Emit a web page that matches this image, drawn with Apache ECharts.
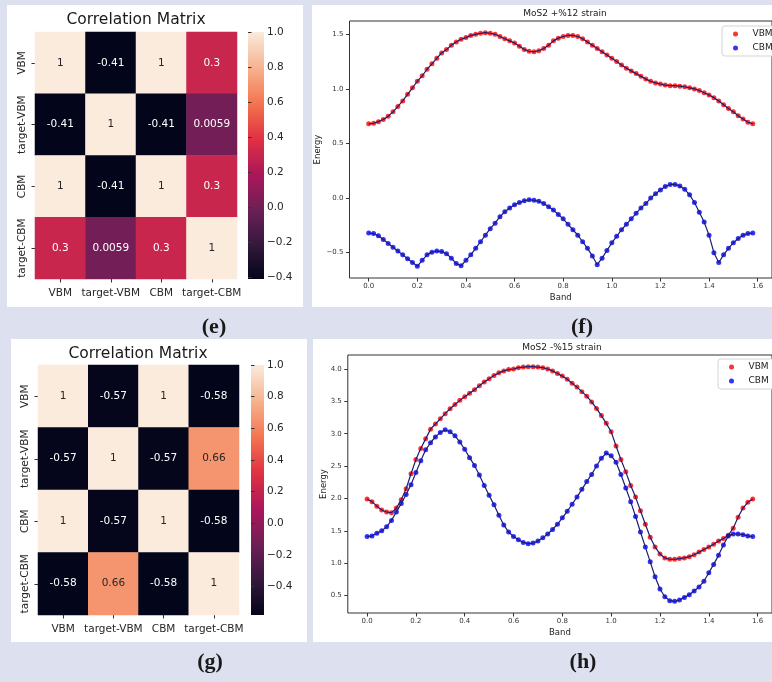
<!DOCTYPE html>
<html>
<head>
<meta charset="utf-8">
<title>Correlation / MoS2 strain</title>
<script src="https://cdn.jsdelivr.net/npm/echarts@6.0.0/dist/echarts.min.js"></script>
<style>
body { margin: 0; background: #dde0ef; }
#main { width: 772px; height: 682px; }
</style>
</head>
<body>
<div id="main"></div>
<script>
// heatmap data
var cats = ['VBM', 'target-VBM', 'CBM', 'target-CBM'];
var corrE = [
	[1, -0.41, 1, 0.3],
	[-0.41, 1, -0.41, 0.0059],
	[1, -0.41, 1, 0.3],
	[0.3, 0.0059, 0.3, 1]
];
var corrG = [
	[1, -0.57, 1, -0.58],
	[-0.57, 1, -0.57, 0.66],
	[1, -0.57, 1, -0.58],
	[-0.58, 0.66, -0.58, 1]
];
var rocket = ['#03051a', '#35193e', '#701f57', '#ad1759', '#e13342', '#f37651', '#f6b48f', '#faebdd'];
var cbarTicks = [-0.4, -0.2, 0, 0.2, 0.4, 0.6, 0.8, 1.0];

// band structure data
var band = [0, 0.02, 0.04, 0.06, 0.08, 0.1, 0.12, 0.14, 0.16, 0.18,
	0.2, 0.22, 0.24, 0.26, 0.28, 0.3, 0.32, 0.34, 0.36, 0.38,
	0.4, 0.42, 0.44, 0.46, 0.48, 0.5, 0.52, 0.54, 0.56, 0.58,
	0.6, 0.62, 0.64, 0.66, 0.68, 0.7, 0.72, 0.74, 0.76, 0.78,
	0.8, 0.82, 0.84, 0.86, 0.88, 0.9, 0.92, 0.94, 0.96, 0.98,
	1.0, 1.02, 1.04, 1.06, 1.08, 1.1, 1.12, 1.14, 1.16, 1.18,
	1.2, 1.22, 1.24, 1.26, 1.28, 1.3, 1.32, 1.34, 1.36, 1.38,
	1.4, 1.42, 1.44, 1.46, 1.48, 1.5, 1.52, 1.54, 1.56, 1.58];
var vbmF = [0.68, 0.685, 0.7, 0.72, 0.75, 0.79, 0.84, 0.89, 0.95, 1.01,
	1.07, 1.12, 1.18, 1.23, 1.28, 1.33, 1.36, 1.4, 1.43, 1.455,
	1.47, 1.49, 1.5, 1.51, 1.515, 1.51, 1.5, 1.48, 1.46, 1.44,
	1.42, 1.39, 1.36, 1.345, 1.34, 1.35, 1.37, 1.4, 1.44, 1.465,
	1.48, 1.49, 1.49, 1.48, 1.46, 1.43, 1.4, 1.37, 1.34, 1.31,
	1.28, 1.25, 1.22, 1.19, 1.165, 1.14, 1.115, 1.09, 1.07, 1.055,
	1.045, 1.035, 1.03, 1.03, 1.025, 1.02, 1.01, 1.0, 0.985, 0.965,
	0.945, 0.92, 0.89, 0.855, 0.82, 0.79, 0.755, 0.725, 0.695, 0.68];
var cbmF = [-0.32, -0.325, -0.345, -0.38, -0.415, -0.45, -0.485, -0.52, -0.555, -0.59,
	-0.625, -0.57, -0.52, -0.495, -0.485, -0.49, -0.51, -0.55, -0.6, -0.62,
	-0.57, -0.52, -0.46, -0.4, -0.34, -0.28, -0.23, -0.17, -0.125, -0.09,
	-0.06, -0.04, -0.025, -0.015, -0.02, -0.03, -0.05, -0.08, -0.11, -0.15,
	-0.19, -0.24, -0.29, -0.34, -0.4, -0.46, -0.53, -0.61, -0.55, -0.48,
	-0.41, -0.35, -0.29, -0.24, -0.19, -0.14, -0.09, -0.05, 0.0, 0.04,
	0.075, 0.105, 0.125, 0.125, 0.11, 0.08, 0.03, -0.04, -0.13, -0.22,
	-0.34, -0.5, -0.59, -0.52, -0.46, -0.41, -0.37, -0.34, -0.325, -0.32];
var vbmH = [1.99, 1.95, 1.88, 1.82, 1.79, 1.78, 1.85, 1.98, 2.15, 2.38,
	2.6, 2.77, 2.92, 3.07, 3.15, 3.23, 3.31, 3.385, 3.45, 3.515,
	3.57, 3.625, 3.68, 3.74, 3.8, 3.85, 3.9, 3.94, 3.97, 3.99,
	4.0, 4.02, 4.03, 4.035, 4.035, 4.03, 4.02, 4.0, 3.97, 3.93,
	3.89, 3.84, 3.78, 3.72, 3.65, 3.58, 3.49, 3.39, 3.28, 3.16,
	3.03, 2.81, 2.6, 2.41, 2.2, 2.02, 1.81, 1.6, 1.4, 1.25,
	1.14, 1.08, 1.06, 1.06, 1.07, 1.08, 1.1, 1.13, 1.17, 1.21,
	1.25, 1.29, 1.34, 1.38, 1.43, 1.54, 1.71, 1.85, 1.94, 1.99];
var cbmH = [1.41, 1.42, 1.46, 1.5, 1.56, 1.66, 1.79, 1.92, 2.06, 2.21,
	2.4, 2.58, 2.75, 2.86, 2.95, 3.02, 3.06, 3.03, 2.97, 2.87,
	2.76, 2.63, 2.51, 2.36, 2.2, 2.05, 1.9, 1.74, 1.59, 1.48,
	1.41, 1.36, 1.32, 1.3, 1.31, 1.34, 1.39, 1.45, 1.52, 1.6,
	1.7, 1.8, 1.91, 2.02, 2.14, 2.26, 2.37, 2.5, 2.62, 2.7,
	2.66, 2.56, 2.37, 2.16, 1.95, 1.72, 1.48, 1.25, 1.02, 0.79,
	0.6, 0.48, 0.42, 0.41, 0.43, 0.47, 0.51, 0.57, 0.63, 0.72,
	0.85, 0.98, 1.12, 1.28, 1.42, 1.45, 1.45, 1.44, 1.42, 1.41];
var bandTicks = [0, 0.2, 0.4, 0.6, 0.8, 1.0, 1.2, 1.4, 1.6];
var energyTicksF = [-0.5, 0, 0.5, 1.0, 1.5];
var energyTicksH = [0.5, 1.0, 1.5, 2.0, 2.5, 3.0, 3.5, 4.0];

var FONT = 'DejaVu Sans';

var fmt1 = function(v) {
	return (v < 0 ? '\u2212' : '') + Math.abs(v).toFixed(1);
};

var minOf = function(m) {
	var lo = Infinity;
	for (var i = 0; i < m.length; i++) {
		for (var j = 0; j < m[i].length; j++) {
			if (m[i][j] < lo) lo = m[i][j];
		}
	}
	return lo;
};

// heatmap cells, text dark on light cells
var heatData = function(m) {
	var lo = minOf(m);
	var out = [];
	for (var i = 0; i < m.length; i++) {
		for (var j = 0; j < m[i].length; j++) {
			var norm = (m[i][j] - lo) / (1 - lo);
			out.push({
				value: [j, i, m[i][j]],
				label: { color: norm > 0.7 ? '#262626' : '#ffffff' }
			});
		}
	}
	return out;
};

var pairs = function(xs, ys) {
	var out = [];
	for (var i = 0; i < xs.length; i++) out.push([xs[i], ys[i]]);
	return out;
};

var gradient = function() {
	var stops = [];
	for (var i = 0; i < rocket.length; i++) {
		stops.push({ offset: i / (rocket.length - 1), color: rocket[i] });
	}
	return new echarts.graphic.LinearGradient(0, 1, 0, 0, stops);
};

var catX = function(grid) {
	return {
		type: 'category', gridIndex: grid, data: cats,
		axisLine: { show: false },
		axisTick: { show: true, alignWithLabel: true, length: 3.5, lineStyle: { color: '#333' } },
		axisLabel: { fontSize: 10.5, fontFamily: FONT, color: '#262626', margin: 9, interval: 0 }
	};
};
var catY = function(grid) {
	return {
		type: 'category', gridIndex: grid, data: cats, inverse: true,
		axisLine: { show: false },
		axisTick: { show: true, alignWithLabel: true, length: 3.5, lineStyle: { color: '#333' } },
		axisLabel: { fontSize: 10.5, fontFamily: FONT, color: '#262626', margin: 7, rotate: 90, interval: 0 }
	};
};
var cbarY = function(grid, lo) {
	return {
		type: 'value', gridIndex: grid, position: 'right', min: lo, max: 1,
		splitLine: { show: false }, axisLine: { show: false },
		axisTick: { show: true, length: 3.5, customValues: cbarTicks, lineStyle: { color: '#333' } },
		axisLabel: { fontSize: 10.5, fontFamily: FONT, color: '#262626', margin: 3, customValues: cbarTicks, formatter: fmt1 }
	};
};
var bandX = function(grid) {
	return {
		type: 'value', gridIndex: grid, min: -0.079, max: 1.659,
		name: 'Band', nameLocation: 'middle', nameGap: 15,
		nameTextStyle: { fontSize: 8.5, fontFamily: FONT, color: '#222' },
		splitLine: { show: false }, axisLine: { show: false, onZero: false },
		axisTick: { show: true, length: 3.5, customValues: bandTicks, lineStyle: { color: '#333' } },
		axisLabel: { fontSize: 7, fontFamily: FONT, color: '#333', margin: 5, customValues: bandTicks, formatter: fmt1 }
	};
};
var energyY = function(grid, lo, hi, ticks, gap) {
	return {
		type: 'value', gridIndex: grid, min: lo, max: hi,
		name: 'Energy', nameLocation: 'middle', nameGap: gap, nameMoveOverlap: false,
		nameTextStyle: { fontSize: 8.5, fontFamily: FONT, color: '#222' },
		splitLine: { show: false }, axisLine: { show: false, onZero: false },
		axisTick: { show: true, length: 3.5, customValues: ticks, lineStyle: { color: '#333' } },
		axisLabel: { fontSize: 7, fontFamily: FONT, color: '#333', margin: 6, customValues: ticks, formatter: fmt1 }
	};
};

var dots = function(name, color, xi, data) {
	return {
		name: name, type: 'scatter', xAxisIndex: xi, yAxisIndex: xi,
		data: data, symbol: 'circle', symbolSize: 5,
		itemStyle: { color: color }, z: 3, silent: true
	};
};
var thread = function(xi, data) {
	return {
		type: 'line', xAxisIndex: xi, yAxisIndex: xi, data: data,
		showSymbol: false, symbol: 'none',
		lineStyle: { color: '#1c1c70', width: 1.2 }, z: 4, silent: true
	};
};

var legendBox = function(left, top) {
	return {
		left: left, top: top, orient: 'vertical', selectedMode: false,
		data: [
			{ name: 'VBM', icon: 'circle', itemStyle: { color: '#ff0000' } },
			{ name: 'CBM', icon: 'circle', itemStyle: { color: '#0000ff' } }
		],
		itemWidth: 20, itemHeight: 5, itemGap: 4,
		textStyle: { fontSize: 9, fontFamily: FONT, color: '#222', lineHeight: 10, padding: [0, 0, 0, 2] },
		backgroundColor: '#ffffff', borderColor: '#d4d4d4', borderWidth: 1, borderRadius: 3,
		padding: [3, 40, 3, 11]
	};
};

var txt = function(x, y, s, size, family, weight) {
	return {
		type: 'text', x: x, y: y, z: 100, silent: true,
		style: {
			text: s, fill: '#1a1a1a', fontSize: size, fontFamily: family,
			fontWeight: weight || 'normal', align: 'center', verticalAlign: 'middle'
		}
	};
};
var panel = function(x, y, w, h) {
	return { type: 'rect', z: -10, silent: true, shape: { x: x, y: y, width: w, height: h }, style: { fill: '#ffffff' } };
};

var myChart = echarts.init(document.getElementById('main'));

var option = {
	backgroundColor: '#dde0ef',
	animation: false,
	graphic: { elements: [
		panel(7, 5, 296, 302),
		panel(312, 5, 470, 302),
		panel(11, 339, 296, 303),
		panel(313, 339, 470, 303),
		txt(136, 20, 'Correlation Matrix', 15.5, FONT),
		txt(138, 354, 'Correlation Matrix', 15.5, FONT),
		txt(565, 14, 'MoS2 +%12 strain', 9, FONT),
		txt(562, 348, 'MoS2 -%15 strain', 9, FONT),
		txt(214, 327, '(e)', 22, 'Liberation Serif', 'bold'),
		txt(582, 327, '(f)', 22, 'Liberation Serif', 'bold'),
		txt(210, 662, '(g)', 22, 'Liberation Serif', 'bold'),
		txt(583, 662, '(h)', 22, 'Liberation Serif', 'bold')
	] },
	legend: [legendBox(722, 26), legendBox(718, 359)],
	visualMap: [
		{ type: 'continuous', show: false, seriesIndex: 0, dimension: 2, min: minOf(corrE), max: 1, inRange: { color: rocket } },
		{ type: 'continuous', show: false, seriesIndex: 1, dimension: 2, min: minOf(corrG), max: 1, inRange: { color: rocket } }
	],
	grid: [
		{ left: 35, top: 32, width: 202, height: 247 },
		{ left: 248, top: 32, width: 16, height: 247, show: true, borderWidth: 0, backgroundColor: gradient() },
		{ left: 349.5, top: 21, width: 435.6, height: 257, show: true, borderColor: '#333', borderWidth: 1, backgroundColor: 'transparent' },
		{ left: 38, top: 365, width: 201, height: 250 },
		{ left: 251, top: 365, width: 13, height: 250, show: true, borderWidth: 0, backgroundColor: gradient() },
		{ left: 347.8, top: 355, width: 429.5, height: 258, show: true, borderColor: '#333', borderWidth: 1, backgroundColor: 'transparent' }
	],
	xAxis: [
		catX(0),
		{ type: 'value', gridIndex: 1, show: false, min: 0, max: 1 },
		bandX(2),
		catX(3),
		{ type: 'value', gridIndex: 4, show: false, min: 0, max: 1 },
		bandX(5)
	],
	yAxis: [
		catY(0),
		cbarY(1, minOf(corrE)),
		energyY(2, -0.732, 1.622, energyTicksF, 27),
		catY(3),
		cbarY(4, minOf(corrG)),
		energyY(5, 0.229, 4.216, energyTicksH, 20)
	],
	series: [
		{
			type: 'heatmap', xAxisIndex: 0, yAxisIndex: 0, data: heatData(corrE), silent: true,
			label: { show: true, fontSize: 10.5, fontFamily: FONT, formatter: function(p) { return String(p.value[2]); } }
		},
		{
			type: 'heatmap', xAxisIndex: 3, yAxisIndex: 3, data: heatData(corrG), silent: true,
			label: { show: true, fontSize: 10.5, fontFamily: FONT, formatter: function(p) { return String(p.value[2]); } }
		},
		dots('VBM', '#ff0000', 2, pairs(band, vbmF)),
		thread(2, pairs(band, vbmF)),
		dots('CBM', '#0000ff', 2, pairs(band, cbmF)),
		thread(2, pairs(band, cbmF)),
		dots('VBM', '#ff0000', 5, pairs(band, vbmH)),
		thread(5, pairs(band, vbmH)),
		dots('CBM', '#0000ff', 5, pairs(band, cbmH)),
		thread(5, pairs(band, cbmH))
	]
};

myChart.setOption(option);
</script>
</body>
</html>
